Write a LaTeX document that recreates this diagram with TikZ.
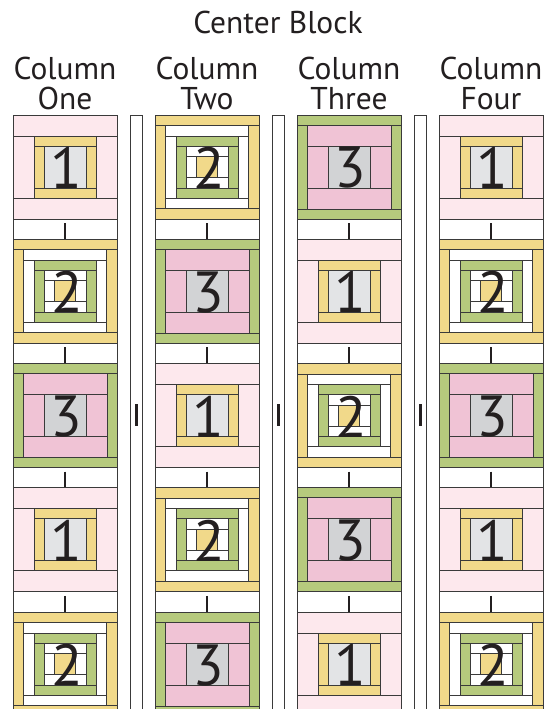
\documentclass[tikz,border=0pt]{standalone}
\usepackage{fontspec}
\setmainfont{PT Sans}
\definecolor{pinkL}{HTML}{FDE8ED}
\definecolor{pinkM}{HTML}{F0C3D5}
\definecolor{yel}{HTML}{F1D98A}
\definecolor{grn}{HTML}{B6CA7D}
\definecolor{grayL}{HTML}{E3E4E6}
\definecolor{grayM}{HTML}{D2D3D5}
\definecolor{linec}{HTML}{3A3A3A}
\definecolor{ink}{HTML}{231F20}
\tikzset{
  patch/.style={draw=linec, line width=0.9bp},
  digit/.style={inner sep=0pt, text=ink, font=\fontsize{58bp}{58bp}\selectfont},
  label/.style={inner sep=0pt, anchor=base, text=ink, font=\fontsize{31.5bp}{36bp}\selectfont},
  ticksash/.style={draw=ink, line width=1.6bp}
}
\newcommand{\lcframe}[6]{%
  \filldraw[patch,fill=#6] (#1,#2) rectangle (#3,#2+#5);
  \filldraw[patch,fill=#6] (#1,#4-#5) rectangle (#3,#4);
  \filldraw[patch,fill=#6] (#1,#2+#5) rectangle (#1+#5,#4-#5);
  \filldraw[patch,fill=#6] (#3-#5,#2+#5) rectangle (#3,#4-#5);
}
\newcommand{\hsash}{%
  \filldraw[patch,fill=white] (0,104) rectangle (104,124.3);
  \draw[ticksash] (52,108) -- (52,124.3);
}
\newcommand{\blkOne}[3]{%
  \begin{scope}[shift={(#1,#2)}]
    \lcframe{0}{0}{104}{104}{21}{pinkL}
    \lcframe{21}{21}{83}{83}{10}{yel}
    \filldraw[patch,fill=grayL] (31,31) rectangle (73,73);
    \node[digit] (#3) at (53,53) {1};
    \hsash
  \end{scope}}
\newcommand{\blkTwo}[3]{%
  \begin{scope}[shift={(#1,#2)}]
    \lcframe{0}{0}{104}{104}{10.5}{yel}
    \lcframe{10.5}{10.5}{93.5}{93.5}{10.5}{white}
    \lcframe{21}{21}{83}{83}{10}{grn}
    \lcframe{31}{31}{73}{73}{10.5}{white}
    \filldraw[patch,fill=yel] (41.5,41.5) rectangle (62.5,62.5);
    \node[digit] (#3) at (54,53) {2};
    \hsash
  \end{scope}}
\newcommand{\blkThree}[3]{%
  \begin{scope}[shift={(#1,#2)}]
    \lcframe{0}{0}{104}{104}{10}{grn}
    \lcframe{10}{10}{94}{94}{21}{pinkM}
    \filldraw[patch,fill=grayM] (31,31) rectangle (73,73);
    \node[digit] (#3) at (53,53) {3};
    \hsash
  \end{scope}}
\begin{document}
\begin{tikzpicture}[x=1bp,y=-1bp]
  \useasboundingbox (0,0) rectangle (548,709);
  \clip (0,0) rectangle (548,709);
  % titles
  \node[label] (title) at (278,34) {Center Block};
  \node[label] (c1a) at (65,80) {Column};
  \node[label] (c1b) at (65,110) {One};
  \node[label] (c2a) at (207,80) {Column};
  \node[label] (c2b) at (207,110) {Two};
  \node[label] (c3a) at (349,80) {Column};
  \node[label] (c3b) at (349,110) {Three};
  \node[label] (c4a) at (491,80) {Column};
  \node[label] (c4b) at (491,110) {Four};
  % column one
  \blkOne{13}{115}{a1}
  \blkTwo{13}{239.3}{a2}
  \blkThree{13}{363.6}{a3}
  \blkOne{13}{487.9}{a4}
  \blkTwo{13}{612.2}{a5}
  % column two
  \blkTwo{155}{115}{b1}
  \blkThree{155}{239.3}{b2}
  \blkOne{155}{363.6}{b3}
  \blkTwo{155}{487.9}{b4}
  \blkThree{155}{612.2}{b5}
  % column three
  \blkThree{297}{115}{e1}
  \blkOne{297}{239.3}{e2}
  \blkTwo{297}{363.6}{e3}
  \blkThree{297}{487.9}{e4}
  \blkOne{297}{612.2}{e5}
  % column four
  \blkOne{439}{115}{f1}
  \blkTwo{439}{239.3}{f2}
  \blkThree{439}{363.6}{f3}
  \blkOne{439}{487.9}{f4}
  \blkTwo{439}{612.2}{f5}
  % vertical sashing
  \foreach \cx in {136,278,420}{
    \filldraw[patch,fill=white] (\cx-6,115) rectangle (\cx+6,720);
    \fill[ink] (\cx-1.5,404) rectangle (\cx+1.5,426);
  }
\end{tikzpicture}
\end{document}
